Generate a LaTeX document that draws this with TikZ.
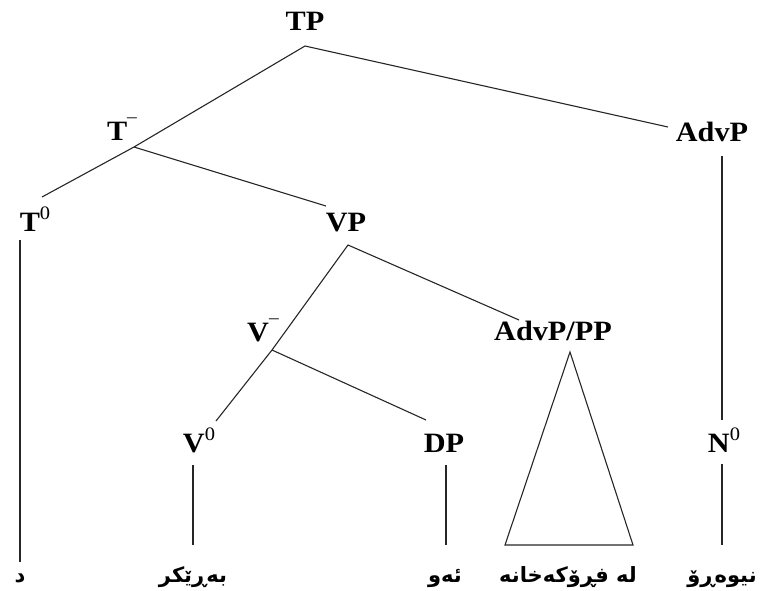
\documentclass[tikz,border=0pt]{standalone}
\usepackage{fontspec}
\setmainfont{Liberation Serif}[FakeStretch=1.08]
\newfontfamily\arabicfont[Script=Arabic]{DejaVu Sans}
\TeXXeTstate=1
\newcommand{\supz}{\raisebox{0.42em}{\fontsize{19}{20}\selectfont\mdseries 0}}
\newcommand{\supd}{\raisebox{0.62em}{\fontsize{18}{20}\selectfont\mdseries –}}
\begin{document}
\begin{tikzpicture}[x=1pt,y=-1pt,
  lab/.style={font=\fontsize{28}{30}\selectfont\bfseries, inner sep=0pt, anchor=base},
  word/.style={font=\arabicfont\fontsize{21}{24}\selectfont\bfseries, inner sep=0pt, anchor=base},
  br/.style={line width=1.1pt, draw=black!85}]
\useasboundingbox (0,0) rectangle (764,590);
% labels
\node[lab] (tp) at (305,30) {TP};
\node[lab] (tb) at (122,140) {T\supd};
\node[lab] (advp) at (712,141) {AdvP};
\node[lab] (t0) at (35,231) {T\supz};
\node[lab] (vp) at (346,231) {VP};
\node[lab] (vb) at (263,341) {V\supd};
\node[lab] (advpp) at (553,340) {AdvP/PP};
\node[lab] (v0) at (199,452) {V\supz};
\node[lab] (dp) at (444,452) {DP};
\node[lab] (n0) at (724,452) {N\supz};
% words
\node[word] (w1) at (20,582) {\beginR د\endR};
\node[word] (w2) at (193,582) {\beginR بەڕێکر\endR};
\node[word] (w3) at (445,582) {\beginR ئەو\endR};
\node[word] (w4) at (568,582) {\beginR لە فڕۆکەخانە\endR};
\node[word] (w5) at (722,582) {\beginR نیوەڕۆ\endR};
% junctions and ends
\coordinate (tpj) at (305,46);
\coordinate (tbj) at (134,147);
\coordinate (t0t) at (42,197);
\coordinate (vpt) at (326,206);
\coordinate (advpt) at (668,127);
\coordinate (advpb) at (722,156);
\coordinate (n0t) at (722,420);
\coordinate (n0b) at (722,464);
\coordinate (n0w) at (722,545);
\coordinate (t0b) at (20,240);
\coordinate (t0w) at (20,562);
\coordinate (vpj) at (348,245);
\coordinate (vbj) at (272,350);
\coordinate (v0t) at (216,421);
\coordinate (advppt) at (519,320);
\coordinate (dpt) at (426,420);
\coordinate (v0b) at (193,465);
\coordinate (v0w) at (193,545);
\coordinate (dpb) at (446,465);
\coordinate (dpw) at (446,545);
\coordinate (apex) at (570,352);
\coordinate (bl) at (505,545);
\coordinate (brr) at (633,545);
% branches
\draw[br] (t0t) -- (tbj) -- (tpj) -- (advpt);
\draw[br] (tbj) -- (vpt);
\draw[br] (t0b) -- (t0w);
\draw[br] (advpb) -- (n0t);
\draw[br] (n0b) -- (n0w);
\draw[br] (v0t) -- (vbj) -- (vpj) -- (advppt);
\draw[br] (vbj) -- (dpt);
\draw[br] (v0b) -- (v0w);
\draw[br] (dpb) -- (dpw);
\draw[br] (apex) -- (bl) -- (brr) -- cycle;
\end{tikzpicture}
\end{document}
